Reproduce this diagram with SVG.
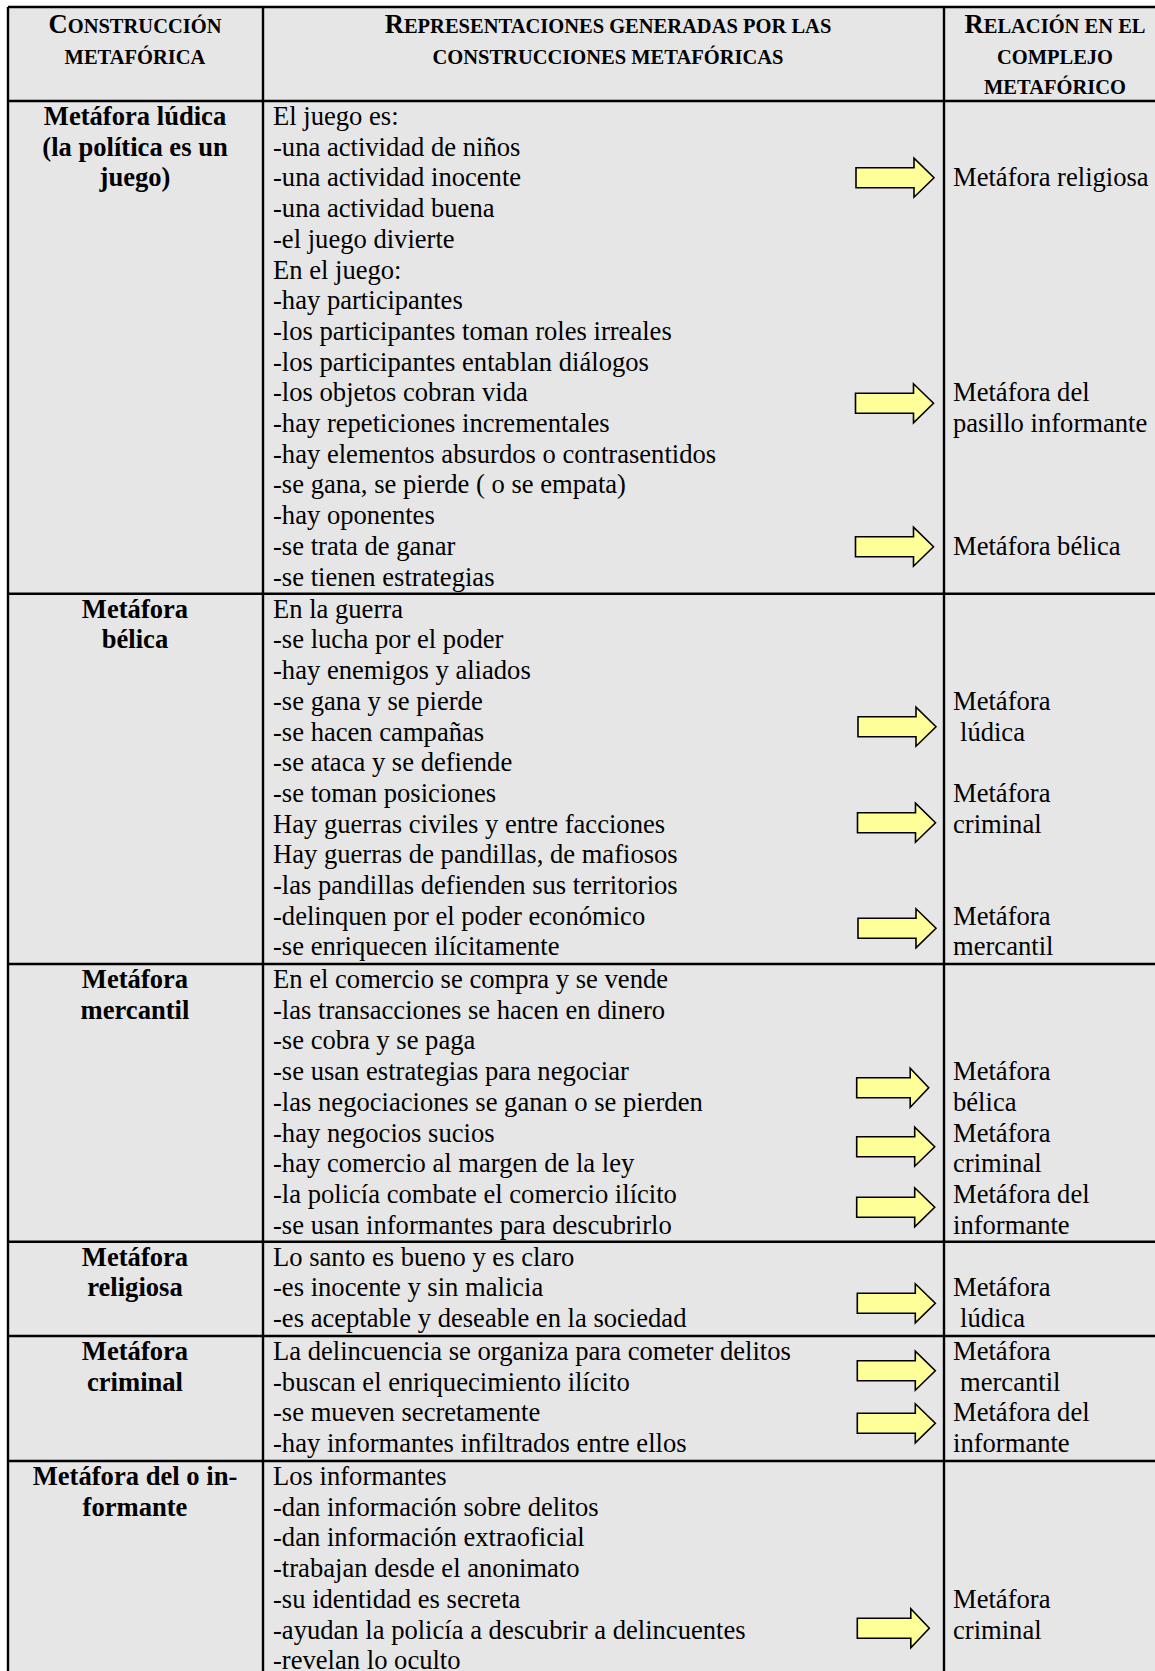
<svg xmlns="http://www.w3.org/2000/svg" xmlns:xlink="http://www.w3.org/1999/xlink" width="1155" height="1671" viewBox="0 0 1155 1671">
  <style>
    .t { font-family: "Liberation Serif", "Times New Roman", serif; font-size: 26.6px; fill: #000; }
    .c { font-weight: bold; text-anchor: middle; }
    .h { font-weight: bold; text-anchor: middle; font-size: 20.5px; }
    .cap { font-size: 26.6px; }
    .grid { stroke: #000; stroke-width: 2.4; fill: none; }
    .arrow { fill: #ffff99; stroke: #000; stroke-width: 1.6; stroke-linejoin: miter; }
  </style>
  <defs>
    <path id="arr" d="M0,-10 H58 V-19.5 L78,0 L58,19.5 V10 H0 Z"/>
    <path id="arrS" d="M0,-10 H53.5 V-19.5 L72,0 L53.5,19.5 V10 H0 Z"/>
  </defs>

  <rect width="1155" height="1671" fill="#fff"/>
  <!-- table body -->
  <rect x="8" y="7" width="1158" height="1690" fill="#e6e6e6"/>

  <g id="grid" class="grid">
    <line x1="8" y1="7" x2="1166" y2="7"/>
    <line x1="8" y1="7" x2="8" y2="1700"/>
    <line x1="263" y1="7" x2="263" y2="1700"/>
    <line x1="944" y1="7" x2="944" y2="1700"/>
    <line x1="8" y1="101" x2="1166" y2="101"/>
    <line x1="8" y1="593.7" x2="1166" y2="593.7"/>
    <line x1="8" y1="964" x2="1166" y2="964"/>
    <line x1="8" y1="1241.7" x2="1166" y2="1241.7"/>
    <line x1="8" y1="1336" x2="1166" y2="1336"/>
    <line x1="8" y1="1461" x2="1166" y2="1461"/>
  </g>

  <g id="header">
    <text class="t h" x="135" y="33"><tspan class="cap">C</tspan>ONSTRUCCIÓN</text>
    <text class="t h" x="135" y="63.7">METAFÓRICA</text>
    <text class="t h" x="608" y="33"><tspan class="cap">R</tspan>EPRESENTACIONES GENERADAS POR LAS</text>
    <text class="t h" x="608" y="63.7">CONSTRUCCIONES METAFÓRICAS</text>
    <text class="t h" x="1055" y="33"><tspan class="cap">R</tspan>ELACIÓN EN EL</text>
    <text class="t h" x="1055" y="63.7">COMPLEJO</text>
    <text class="t h" x="1055" y="94.4">METAFÓRICO</text>
  </g>

  <g id="row-ludica">
    <text class="t c" x="135" y="125">Metáfora lúdica<tspan x="135" dy="30.7">(la política es un</tspan><tspan x="135" dy="30.7">juego)</tspan></text>
    <text class="t" x="273" y="125">El juego es:<tspan x="273" dy="30.7">-una actividad de niños</tspan><tspan x="273" dy="30.7">-una actividad inocente</tspan><tspan x="273" dy="30.7">-una actividad buena</tspan><tspan x="273" dy="30.7">-el juego divierte</tspan><tspan x="273" dy="30.7">En el juego:</tspan><tspan x="273" dy="30.7">-hay participantes</tspan><tspan x="273" dy="30.7">-los participantes toman roles irreales</tspan><tspan x="273" dy="30.7">-los participantes entablan diálogos</tspan><tspan x="273" dy="30.7">-los objetos cobran vida</tspan><tspan x="273" dy="30.7">-hay repeticiones incrementales</tspan><tspan x="273" dy="30.7">-hay elementos absurdos o contrasentidos</tspan><tspan x="273" dy="30.7">-se gana, se pierde ( o se empata)</tspan><tspan x="273" dy="30.7">-hay oponentes</tspan><tspan x="273" dy="30.7">-se trata de ganar</tspan><tspan x="273" dy="30.7">-se tienen estrategias</tspan></text>
    <text class="t" x="953" y="186.4">Metáfora religiosa</text>
    <text class="t" x="953" y="401.3">Metáfora del<tspan x="953" dy="30.7">pasillo informante</tspan></text>
    <text class="t" x="953" y="554.8">Metáfora bélica</text>
  </g>

  <g id="row-belica">
    <text class="t c" x="135" y="617.7">Metáfora<tspan x="135" dy="30.7">bélica</tspan></text>
    <text class="t" x="273" y="617.7">En la guerra<tspan x="273" dy="30.7">-se lucha por el poder</tspan><tspan x="273" dy="30.7">-hay enemigos y aliados</tspan><tspan x="273" dy="30.7">-se gana y se pierde</tspan><tspan x="273" dy="30.7">-se hacen campañas</tspan><tspan x="273" dy="30.7">-se ataca y se defiende</tspan><tspan x="273" dy="30.7">-se toman posiciones</tspan><tspan x="273" dy="30.7">Hay guerras civiles y entre facciones</tspan><tspan x="273" dy="30.7">Hay guerras de pandillas, de mafiosos</tspan><tspan x="273" dy="30.7">-las pandillas defienden sus territorios</tspan><tspan x="273" dy="30.7">-delinquen por el poder económico</tspan><tspan x="273" dy="30.7">-se enriquecen ilícitamente</tspan></text>
    <text class="t" x="953" y="709.8">Metáfora<tspan x="960" dy="30.7">lúdica</tspan></text>
    <text class="t" x="953" y="801.9">Metáfora<tspan x="953" dy="30.7">criminal</tspan></text>
    <text class="t" x="953" y="924.7">Metáfora<tspan x="953" dy="30.7">mercantil</tspan></text>
  </g>

  <g id="row-mercantil">
    <text class="t c" x="135" y="988">Metáfora<tspan x="135" dy="30.7">mercantil</tspan></text>
    <text class="t" x="273" y="988">En el comercio se compra y se vende<tspan x="273" dy="30.7">-las transacciones se hacen en dinero</tspan><tspan x="273" dy="30.7">-se cobra y se paga</tspan><tspan x="273" dy="30.7">-se usan estrategias para negociar</tspan><tspan x="273" dy="30.7">-las negociaciones se ganan o se pierden</tspan><tspan x="273" dy="30.7">-hay negocios sucios</tspan><tspan x="273" dy="30.7">-hay comercio al margen de la ley</tspan><tspan x="273" dy="30.7">-la policía combate el comercio ilícito</tspan><tspan x="273" dy="30.7">-se usan informantes para descubrirlo</tspan></text>
    <text class="t" x="953" y="1080.1">Metáfora<tspan x="953" dy="30.7">bélica</tspan></text>
    <text class="t" x="953" y="1141.5">Metáfora<tspan x="953" dy="30.7">criminal</tspan></text>
    <text class="t" x="953" y="1202.9">Metáfora del<tspan x="953" dy="30.7">informante</tspan></text>
  </g>

  <g id="row-religiosa">
    <text class="t c" x="135" y="1265.7">Metáfora<tspan x="135" dy="30.7">religiosa</tspan></text>
    <text class="t" x="273" y="1265.7">Lo santo es bueno y es claro<tspan x="273" dy="30.7">-es inocente y sin malicia</tspan><tspan x="273" dy="30.7">-es aceptable y deseable en la sociedad</tspan></text>
    <text class="t" x="953" y="1296.4">Metáfora<tspan x="960" dy="30.7">lúdica</tspan></text>
  </g>

  <g id="row-criminal">
    <text class="t c" x="135" y="1360">Metáfora<tspan x="135" dy="30.7">criminal</tspan></text>
    <text class="t" x="273" y="1360">La delincuencia se organiza para cometer delitos<tspan x="273" dy="30.7">-buscan el enriquecimiento ilícito</tspan><tspan x="273" dy="30.7">-se mueven secretamente</tspan><tspan x="273" dy="30.7">-hay informantes infiltrados entre ellos</tspan></text>
    <text class="t" x="953" y="1360">Metáfora<tspan x="960" dy="30.7">mercantil</tspan></text>
    <text class="t" x="953" y="1421.4">Metáfora del<tspan x="953" dy="30.7">informante</tspan></text>
  </g>

  <g id="row-informante">
    <text class="t c" x="135" y="1485">Metáfora del o in-<tspan x="135" dy="30.7">formante</tspan></text>
    <text class="t" x="273" y="1485">Los informantes<tspan x="273" dy="30.7">-dan información sobre delitos</tspan><tspan x="273" dy="30.7">-dan información extraoficial</tspan><tspan x="273" dy="30.7">-trabajan desde el anonimato</tspan><tspan x="273" dy="30.7">-su identidad es secreta</tspan><tspan x="273" dy="30.7">-ayudan la policía a descubrir a delincuentes</tspan><tspan x="273" dy="30.7">-revelan lo oculto</tspan></text>
    <text class="t" x="953" y="1607.8">Metáfora<tspan x="953" dy="30.7">criminal</tspan></text>
  </g>

  <g id="connectors" class="arrow">
    <use xlink:href="#arr" x="856" y="177.7"/>
    <use xlink:href="#arr" x="855.5" y="403.3"/>
    <use xlink:href="#arr" x="855.5" y="546.7"/>
    <use xlink:href="#arr" x="858" y="726.7"/>
    <use xlink:href="#arr" x="857.5" y="822.7"/>
    <use xlink:href="#arr" x="858" y="928.3"/>
    <use xlink:href="#arrS" x="856.7" y="1087.7"/>
    <use xlink:href="#arr" x="856.7" y="1146.7"/>
    <use xlink:href="#arr" x="856.7" y="1207.3"/>
    <use xlink:href="#arr" x="857.3" y="1303.3"/>
    <use xlink:href="#arr" x="857.3" y="1370.7"/>
    <use xlink:href="#arr" x="857.3" y="1423.3"/>
    <use xlink:href="#arrS" x="857.3" y="1628.3"/>
  </g>
</svg>
